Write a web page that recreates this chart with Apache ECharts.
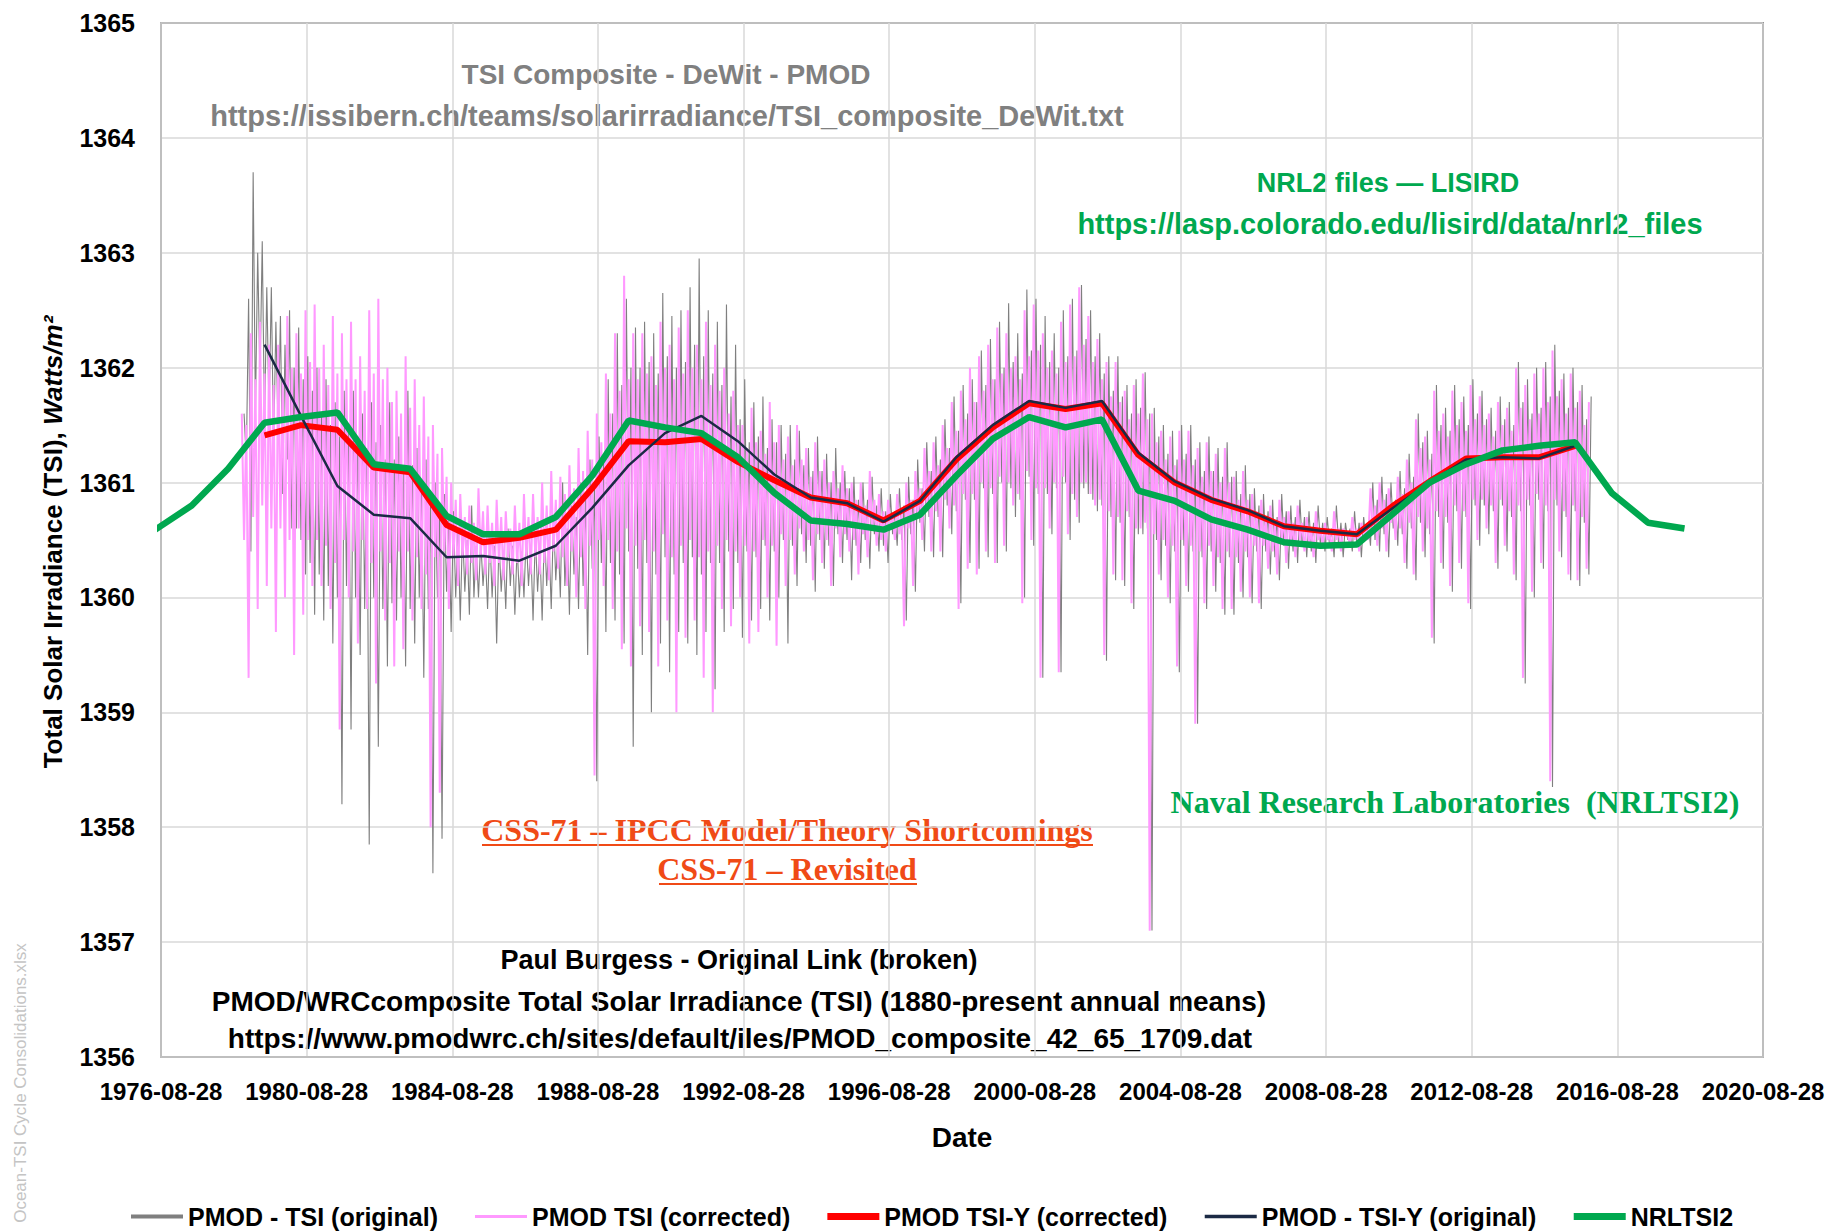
<!DOCTYPE html>
<html><head><meta charset="utf-8">
<script src="https://cdn.jsdelivr.net/npm/echarts/dist/echarts.min.js"></script>
<style>html,body{margin:0;padding:0;background:#fff}#c{width:1831px;height:1232px}</style>
</head><body><div id="c"></div>
<script>
// ---------------- DATA ----------------
const axisStartDate = '1976-08-28';
const axisEndDate = '2020-08-28';
const yTickMin = 1356, yTickMax = 1365, yTickStep = 1;

// Daily composites, summarised per quarter-year: extreme high, core band (low/high), extreme low (W/m2)
const pinkStartYear = 1978.875;   // PMOD TSI (corrected)
const greyStartYear = 1978.9375;  // PMOD - TSI (original)
const sampleStepYears = 0.25;

const pinkHigh = [1361.6,1362.3,1362.4,1362.2, 1362.2,1362.45,1362.3,1362.5, 1362.55,1362.2,1362.45,1362.3,
1362.4,1362.1,1362.5,1362.6, 1362.0,1361.8,1362.1,1361.9, 1361.75,1361.5,1361.3,1361.0,
1360.9,1360.8,1360.95,1360.8, 1360.85,1360.75,1360.8,1360.9, 1360.9,1361.0,1361.1,1361.05,
1361.15,1361.3,1361.45,1361.6, 1361.95,1362.3,1362.8,1362.3, 1362.3,1362.1,1362.4,1362.2,
1362.35,1362.5,1362.2,1362.4, 1362.2,1362.0,1361.8,1361.5, 1361.65,1361.45,1361.7,1361.5,
1361.4,1361.5,1361.3,1361.35, 1361.2,1361.1,1361.15,1361.0, 1361.0,1361.1,1360.9,1360.85,
1360.9,1361.0,1361.1,1361.3, 1361.35,1361.5,1361.7,1361.8, 1362.0,1362.1,1362.2,1362.35,
1362.3,1362.1,1362.5,1362.55, 1362.3,1362.15,1362.4,1362.55, 1362.7,1362.45,1362.25,1362.05,
1362.05,1361.8,1361.85,1361.95, 1361.6,1361.45,1361.4,1361.45, 1361.45,1361.3,1361.35,1361.25,
1361.3,1361.05,1361.1,1360.9, 1360.85,1360.8,1360.85,1360.75, 1360.8,1360.7,1360.75,1360.65,
1360.75,1360.6,1360.7,1360.65, 1360.95,1361.0,1360.95,1361.05, 1361.2,1361.55,1361.4,1361.8,
1361.6,1361.8,1361.7,1361.85, 1361.75,1361.6,1361.7,1361.65, 1362.0,1361.85,1361.95,1362.0,
1362.15,1361.9,1361.95,1361.8, 1361.7];
const pinkCoreLo = [1360.5,1360.7,1360.8,1360.6, 1360.6,1360.5,1360.6,1360.5, 1360.5,1360.45,1360.3,1360.5,
1360.4,1360.5,1360.3,1360.4, 1360.3,1360.4,1360.4,1360.35, 1360.2,1360.35,1360.4,1360.35,
1360.35,1360.3,1360.35,1360.3, 1360.3,1360.35,1360.3,1360.35, 1360.35,1360.3,1360.4,1360.35,
1360.4,1360.35,1360.45,1360.5, 1360.5,1360.4,1360.6,1360.45, 1360.5,1360.4,1360.55,1360.35,
1360.45,1360.5,1360.35,1360.4, 1360.45,1360.5,1360.4,1360.45, 1360.4,1360.5,1360.45,1360.55,
1360.5,1360.6,1360.5,1360.55, 1360.5,1360.6,1360.55,1360.5, 1360.55,1360.6,1360.5,1360.6,
1360.55,1360.6,1360.7,1360.75, 1360.75,1360.85,1360.8,1360.9, 1360.9,1361.0,1360.95,1361.05,
1361.0,1360.9,1361.1,1360.95, 1360.95,1361.0,1361.05,1360.9, 1361.0,1360.9,1360.85,1360.75,
1360.7,1360.75,1360.6,1360.65, 1360.55,1360.5,1360.45,1360.5, 1360.45,1360.4,1360.45,1360.35,
1360.4,1360.35,1360.4,1360.45, 1360.45,1360.4,1360.5,1360.45, 1360.5,1360.45,1360.5,1360.5,
1360.5,1360.55,1360.5,1360.55, 1360.55,1360.6,1360.65,1360.6, 1360.65,1360.7,1360.6,1360.75,
1360.7,1360.8,1360.75,1360.85, 1360.85,1360.8,1360.85,1360.75, 1360.8,1360.85,1360.9,1360.8,
1360.85,1360.75,1360.8,1360.7];
const pinkCoreHi = [1361.5,1361.9,1361.95,1361.85, 1361.9,1362.0,1361.95,1362.05, 1362.0,1361.85,1361.95,1361.9,
1361.9,1361.8,1361.95,1361.9, 1361.7,1361.6,1361.65,1361.5, 1361.4,1361.25,1361.05,1360.85,
1360.7,1360.65,1360.75,1360.65, 1360.7,1360.6,1360.65,1360.7, 1360.7,1360.8,1360.85,1360.9,
1360.95,1361.1,1361.2,1361.35, 1361.6,1361.8,1361.9,1361.9, 1361.95,1361.85,1362.0,1361.9,
1361.95,1362.0,1361.9,1361.85, 1361.8,1361.6,1361.5,1361.3, 1361.35,1361.25,1361.35,1361.2,
1361.15,1361.2,1361.05,1361.1, 1361.0,1360.95,1360.95,1360.85, 1360.8,1360.85,1360.75,1360.7,
1360.75,1360.85,1360.95,1361.1, 1361.15,1361.3,1361.45,1361.55, 1361.7,1361.8,1361.9,1361.95,
1362.0,1361.9,1362.1,1362.15, 1362.0,1361.95,1362.05,1362.1, 1362.2,1362.05,1361.9,1361.75,
1361.7,1361.55,1361.6,1361.55, 1361.35,1361.2,1361.15,1361.2, 1361.15,1361.05,1361.1,1361.0,
1361.0,1360.85,1360.85,1360.75, 1360.7,1360.65,1360.7,1360.65, 1360.65,1360.6,1360.6,1360.55,
1360.6,1360.55,1360.6,1360.6, 1360.8,1360.85,1360.8,1360.9, 1361.0,1361.3,1361.2,1361.45,
1361.4,1361.5,1361.45,1361.55, 1361.5,1361.4,1361.5,1361.45, 1361.65,1361.55,1361.6,1361.7,
1361.75,1361.6,1361.65,1361.5];
const pinkLow = [1359.3,1359.9,1360.1,1359.7, 1360.0,1359.5,1359.85,1360.1, 1360.1,1359.9,1358.85,1360.0,
1359.6,1359.9,1359.25,1359.8, 1359.4,1359.55,1359.8,1359.9, 1358.0,1358.3,1359.9,1360.1,
1360.2,1360.15,1360.2,1360.1, 1360.15,1360.2,1360.1,1360.2, 1360.2,1360.15,1360.25,1360.1,
1360.0,1359.9,1358.45,1360.1, 1359.9,1359.55,1359.4,1359.75, 1359.7,1359.4,1359.8,1359.0,
1359.65,1359.8,1359.3,1359.0, 1359.9,1359.75,1360.0,1359.6, 1359.7,1360.0,1359.58,1360.1,
1360.2,1360.4,1360.15,1360.3, 1360.1,1360.35,1360.4,1360.2, 1360.35,1360.45,1360.4,1360.5,
1359.75,1360.1,1360.5,1360.4, 1360.4,1360.6,1359.9,1360.25, 1360.2,1360.4,1360.3,1360.45,
1360.8,1359.95,1360.5,1359.3, 1360.6,1359.35,1360.55,1360.7, 1361.0,1360.8,1359.5,1360.2,
1360.15,1359.95,1360.6,1357.1, 1360.2,1360.0,1359.4,1360.1, 1358.9,1359.95,1360.1,1359.9,
1359.9,1360.05,1360.0,1359.95, 1360.25,1360.2,1360.3,1360.35, 1360.4,1360.35,1360.45,1360.4,
1360.4,1360.45,1360.4,1360.5, 1360.45,1360.4,1360.5,1360.3, 1360.2,1360.4,1359.65,1360.3,
1360.1,1360.3,1359.95,1360.5, 1360.6,1360.3,1360.45,1360.2, 1359.3,1360.05,1360.3,1358.4,
1360.4,1360.2,1360.15,1360.25];

const greyHigh = [1361.6,1363.7,1363.1,1362.7, 1362.45,1362.5,1362.35,1362.1, 1362.0,1361.9,1361.7,1361.8,
1361.8,1361.6,1361.7,1361.5, 1361.7,1361.4,1361.8,1361.3, 1361.2,1361.0,1360.9,1360.75,
1360.6,1360.8,1360.5,1360.55, 1360.5,1360.6,1360.45,1360.55, 1360.55,1360.6,1360.7,1361.0,
1360.8,1361.0,1361.2,1361.4, 1361.9,1362.3,1362.6,1362.35, 1362.4,1362.3,1362.65,1362.45,
1362.5,1362.7,1362.95,1362.5, 1362.4,1362.55,1362.2,1361.9, 1361.7,1361.75,1361.55,1361.5,
1361.5,1361.45,1361.3,1361.4, 1361.25,1361.3,1361.1,1361.05, 1361.0,1361.05,1360.95,1360.9,
1360.95,1361.05,1361.2,1361.35, 1361.4,1361.55,1361.75,1361.85, 1361.9,1362.15,1362.25,1362.4,
1362.56,1362.3,1362.68,1362.6, 1362.45,1362.3,1362.5,1362.6, 1362.72,1362.5,1362.3,1362.1,
1362.1,1361.85,1361.9,1361.96, 1361.65,1361.5,1361.45,1361.5, 1361.5,1361.35,1361.4,1361.3,
1361.35,1361.1,1361.15,1360.95, 1360.9,1360.85,1360.9,1360.8, 1360.85,1360.75,1360.8,1360.7,
1360.8,1360.65,1360.75,1360.7, 1361.0,1361.05,1361.0,1361.1, 1361.25,1361.6,1361.45,1361.85,
1361.65,1361.85,1361.75,1361.9, 1361.8,1361.65,1361.75,1361.7, 1362.05,1361.9,1362.0,1362.05,
1362.2,1361.95,1362.0,1361.85, 1361.75];
const greyCoreLo = [1361.2,1361.6,1361.5,1361.3, 1360.9,1360.6,1360.5,1360.3, 1360.2,1360.1,1360.0,1360.1,
1360.0,1359.9,1360.0,1359.9, 1359.95,1360.0,1359.9,1360.0, 1359.9,1360.0,1360.05,1360.0,
1360.05,1360.0,1360.1,1360.0, 1360.05,1360.1,1360.0,1360.1, 1360.05,1360.1,1360.15,1360.1,
1360.2,1360.1,1360.25,1360.3, 1360.3,1360.2,1360.4,1360.25, 1360.3,1360.2,1360.35,1360.2,
1360.3,1360.35,1360.2,1360.3, 1360.3,1360.4,1360.3,1360.4, 1360.35,1360.45,1360.4,1360.5,
1360.45,1360.55,1360.45,1360.5, 1360.45,1360.55,1360.5,1360.45, 1360.5,1360.55,1360.45,1360.55,
1360.5,1360.55,1360.65,1360.7, 1360.7,1360.8,1360.75,1360.85, 1360.85,1360.95,1360.9,1361.0,
1360.95,1360.85,1361.05,1360.9, 1360.9,1360.95,1361.0,1360.85, 1360.95,1360.85,1360.8,1360.7,
1360.65,1360.7,1360.55,1360.6, 1360.5,1360.45,1360.4,1360.45, 1360.4,1360.35,1360.4,1360.3,
1360.35,1360.3,1360.35,1360.4, 1360.4,1360.35,1360.45,1360.4, 1360.45,1360.4,1360.45,1360.45,
1360.45,1360.5,1360.45,1360.5, 1360.5,1360.55,1360.6,1360.55, 1360.6,1360.65,1360.55,1360.7,
1360.65,1360.75,1360.7,1360.8, 1360.8,1360.75,1360.8,1360.7, 1360.75,1360.8,1360.85,1360.75,
1360.8,1360.7,1360.75,1360.65];
const greyCoreHi = [1362.6,1363.0,1362.7,1362.4, 1362.2,1362.0,1361.9,1361.8, 1361.6,1361.5,1361.4,1361.45,
1361.4,1361.3,1361.35,1361.2, 1361.2,1361.1,1361.15,1361.0, 1360.9,1360.8,1360.7,1360.6,
1360.5,1360.45,1360.4,1360.45, 1360.4,1360.45,1360.4,1360.45, 1360.45,1360.5,1360.55,1360.6,
1360.7,1360.85,1361.0,1361.2, 1361.6,1361.85,1362.0,1362.0, 1362.05,1361.95,1362.1,1362.0,
1362.05,1362.2,1362.1,1361.95, 1361.85,1361.75,1361.55,1361.35, 1361.4,1361.3,1361.35,1361.25,
1361.2,1361.15,1361.1,1361.1, 1361.0,1361.0,1360.95,1360.85, 1360.85,1360.8,1360.75,1360.75,
1360.8,1360.85,1360.95,1361.1, 1361.2,1361.3,1361.45,1361.6, 1361.7,1361.85,1361.9,1362.0,
1362.05,1361.95,1362.15,1362.2, 1362.05,1362.0,1362.1,1362.15, 1362.25,1362.1,1361.95,1361.8,
1361.75,1361.6,1361.65,1361.6, 1361.4,1361.25,1361.2,1361.25, 1361.2,1361.1,1361.1,1361.05,
1361.05,1360.9,1360.9,1360.8, 1360.75,1360.7,1360.75,1360.7, 1360.7,1360.65,1360.65,1360.6,
1360.65,1360.6,1360.65,1360.65, 1360.85,1360.9,1360.85,1360.95, 1361.05,1361.35,1361.25,1361.5,
1361.45,1361.55,1361.5,1361.6, 1361.55,1361.45,1361.55,1361.5, 1361.7,1361.6,1361.65,1361.75,
1361.8,1361.65,1361.7,1361.55];
const greyLow = [1360.4,1361.9,1361.6,1361.4, 1361.2,1360.6,1360.2,1359.85, 1359.8,1359.6,1358.2,1358.85,
1359.5,1357.85,1358.7,1359.4, 1359.8,1359.4,1359.6,1359.3, 1357.6,1357.9,1359.7,1359.8,
1359.85,1360.0,1359.9,1359.6, 1359.9,1359.85,1360.0,1359.8, 1359.8,1359.9,1360.0,1359.85,
1359.9,1359.5,1358.4,1359.7, 1359.8,1359.6,1358.7,1359.5, 1359.0,1359.6,1359.35,1359.7,
1359.6,1359.5,1359.7,1359.2, 1359.7,1359.9,1359.65,1359.8, 1359.9,1359.8,1360.0,1359.6,
1360.1,1360.3,1360.05,1360.25, 1360.1,1360.3,1360.15,1360.3, 1360.25,1360.4,1360.3,1360.45,
1359.8,1360.05,1360.4,1360.35, 1360.35,1360.55,1359.95,1360.3, 1360.25,1360.35,1360.3,1360.4,
1360.7,1360.0,1360.45,1359.3, 1360.55,1359.35,1360.5,1360.65, 1360.9,1360.75,1359.45,1360.15,
1360.1,1359.9,1360.55,1357.1, 1360.15,1359.95,1359.35,1360.05, 1358.9,1359.9,1360.05,1359.85,
1359.85,1360.0,1359.95,1359.9, 1360.2,1360.15,1360.25,1360.3, 1360.35,1360.3,1360.4,1360.35,
1360.35,1360.4,1360.35,1360.45, 1360.4,1360.35,1360.45,1360.25, 1360.15,1360.35,1359.6,1360.25,
1360.05,1360.25,1359.9,1360.45, 1360.55,1360.25,1360.4,1360.15, 1359.25,1360.0,1360.25,1358.35,
1360.35,1360.15,1360.1,1360.2];

// Annual means (plotted mid-year)
const pmodYears = [1979,1980,1981,1982,1983,1984,1985,1986,1987,1988,1989,1990,1991,1992,1993,1994,1995,1996,1997,1998,
1999,2000,2001,2002,2003,2004,2005,2006,2007,2008,2009,2010,2011,2012,2013,2014,2015];
const pmodYCorrected = [1361.41,1361.50,1361.46,1361.13,1361.09,1360.63,1360.48,1360.52,1360.59,1360.95,
1361.36,1361.35,1361.38,1361.18,1361.02,1360.87,1360.82,1360.67,1360.84,1361.20,
1361.48,1361.69,1361.64,1361.69,1361.24,1361.00,1360.85,1360.75,1360.62,1360.58,
1360.55,1360.80,1361.01,1361.21,1361.22,1361.22,1361.32];
const pmodYOriginal = [1362.20,1361.58,1360.97,1360.72,1360.69,1360.35,1360.36,1360.32,1360.45,1360.78,
1361.15,1361.43,1361.58,1361.36,1361.07,1360.87,1360.82,1360.66,1360.84,1361.22,
1361.50,1361.71,1361.65,1361.71,1361.26,1361.01,1360.86,1360.76,1360.62,1360.58,
1360.55,1360.78,1361.00,1361.20,1361.22,1361.21,1361.32];
const nrlYears = [1976,1977,1978,1979,1980,1981,1982,1983,1984,1985,1986,1987,1988,1989,1990,1991,1992,1993,1994,1995,
1996,1997,1998,1999,2000,2001,2002,2003,2004,2005,2006,2007,2008,2009,2010,2011,2012,2013,2014,2015,2016,2017,2018];
const nrlVals = [1360.59,1360.80,1361.12,1361.52,1361.57,1361.61,1361.16,1361.12,1360.71,1360.55,
1360.55,1360.70,1361.06,1361.54,1361.48,1361.43,1361.22,1360.91,1360.67,1360.64,
1360.59,1360.72,1361.06,1361.38,1361.57,1361.48,1361.55,1360.93,1360.84,1360.68,
1360.59,1360.48,1360.45,1360.46,1360.73,1361.00,1361.16,1361.28,1361.32,1361.35,
1360.91,1360.65,1360.60];

const seriesNames = ['PMOD - TSI (original)','PMOD TSI (corrected)','PMOD TSI-Y (corrected)','PMOD - TSI-Y (original)','NRLTSI2'];

// ---------------- helpers ----------------
const DAY = 86400000;
function parseDate(s){ const p=s.split('-').map(Number); return Date.UTC(p[0],p[1]-1,p[2]); }
const BASE = parseDate(axisStartDate);
const AXIS_MAX = (parseDate(axisEndDate)-BASE)/DAY;
const X_INTERVAL = (Date.UTC(1980,7,28)-BASE)/DAY; // 4-year major unit
function yearToDays(y){ const yr=Math.floor(y); const s=Date.UTC(yr,0,1), e=Date.UTC(yr+1,0,1); return (s+(y-yr)*(e-s)-BASE)/DAY; }
function fmtDate(v){ const d=new Date(BASE+Math.round(v)*DAY); const p=n=>String(n).padStart(2,'0'); return d.getUTCFullYear()+'-'+p(d.getUTCMonth()+1)+'-'+p(d.getUTCDate()); }
function excursions(start, step, highs, coreLo, coreHi, lows){
  const pts=[];
  for(let k=0;k<highs.length;k++){
    const t=start+k*step;
    pts.push([yearToDays(t), highs[k]]);
    if(k<coreLo.length) pts.push([yearToDays(t+step*0.25), coreLo[k]]);
    if(k<coreHi.length) pts.push([yearToDays(t+step*0.5), coreHi[k]]);
    if(k<lows.length) pts.push([yearToDays(t+step*0.75), lows[k]]);
  }
  return pts;
}
function annual(years, vals){ return years.map((y,i)=>[yearToDays(y+0.5), vals[i]]); }
// legend bar icon of a given thickness inside a 52x14 box
function barIcon(th){ const a=(7-th/2).toFixed(2), b=(7+th/2).toFixed(2); return 'path://M0,0L0.01,0L0,0.01ZM0,14L0.01,14L0,13.99ZM0,'+a+'H52V'+b+'H0Z'; }

const SANS = '"Liberation Sans", Arial, sans-serif';
const SERIF = '"Liberation Serif", "Times New Roman", serif';
const colors = ['#7f7f7f','#ff99ff','#ff0000','#1b2a45','#00a84f'];
const legendThick = [4,3,7,3.5,7];

const chart = echarts.init(document.getElementById('c'), null, {renderer:'svg'});
const lineBase = {type:'line', symbol:'none', showSymbol:false, silent:true, animation:false};

chart.setOption({
  animation:false,
  backgroundColor:'#fff',
  grid:{left:161, right:68, top:23, bottom:175, show:true, borderColor:'#404040', borderWidth:1.5},
  xAxis:{type:'value', min:0, max:AXIS_MAX, interval:X_INTERVAL,
    axisLine:{show:true, onZero:false, lineStyle:{color:'#bfbfbf', width:2}},
    axisTick:{show:false},
    splitLine:{show:true, lineStyle:{color:'#d9d9d9', width:1.5}},
    axisLabel:{formatter:fmtDate, margin:22, color:'#000', fontFamily:SANS, fontWeight:'bold', fontSize:24},
    name:'Date', nameLocation:'middle', nameGap:66,
    nameTextStyle:{color:'#000', fontFamily:SANS, fontWeight:'bold', fontSize:28}
  },
  yAxis:{type:'value', min:yTickMin, max:yTickMax, interval:yTickStep,
    axisLine:{show:true, lineStyle:{color:'#bfbfbf', width:2}},
    axisTick:{show:false},
    splitLine:{show:true, lineStyle:{color:'#d9d9d9', width:1.5}},
    axisLabel:{margin:26, formatter:v=>String(Math.round(v)), color:'#000', fontFamily:SANS, fontWeight:'bold', fontSize:25}
  },
  legend:{left:126, top:1199, itemWidth:52, itemHeight:14, itemGap:37,
    itemStyle:{borderWidth:0},
    textStyle:{color:'#000', fontFamily:SANS, fontWeight:'bold', fontSize:25},
    data:seriesNames.map((n,i)=>({name:n, icon:barIcon(legendThick[i]), itemStyle:{color:colors[i], borderWidth:0}}))},
  series:[
    Object.assign({}, lineBase, {name:seriesNames[0], data:excursions(greyStartYear, sampleStepYears, greyHigh, greyCoreLo, greyCoreHi, greyLow),
      lineStyle:{color:colors[0], width:1.1}, itemStyle:{color:colors[0]}, z:2}),
    Object.assign({}, lineBase, {name:seriesNames[1], data:excursions(pinkStartYear, sampleStepYears, pinkHigh, pinkCoreLo, pinkCoreHi, pinkLow),
      lineStyle:{color:colors[1], width:2}, itemStyle:{color:colors[1]}, z:3}),
    Object.assign({}, lineBase, {name:seriesNames[2], data:annual(pmodYears, pmodYCorrected),
      lineStyle:{color:colors[2], width:6}, itemStyle:{color:colors[2]}, z:4}),
    Object.assign({}, lineBase, {name:seriesNames[3], data:annual(pmodYears, pmodYOriginal),
      lineStyle:{color:colors[3], width:2.5}, itemStyle:{color:colors[3]}, z:5}),
    Object.assign({}, lineBase, {name:seriesNames[4], data:annual(nrlYears, nrlVals),
      lineStyle:{color:colors[4], width:6.5}, itemStyle:{color:colors[4]}, z:6})
  ],
  graphic:[
    {type:'text', x:666, y:74, style:{text:'TSI Composite - DeWit - PMOD', fill:'#808080', fontFamily:SANS, fontWeight:'bold', fontSize:28, align:'center', verticalAlign:'middle'}},
    {type:'text', x:667, y:116, style:{text:'https://issibern.ch/teams/solarirradiance/TSI_composite_DeWit.txt', fill:'#808080', fontFamily:SANS, fontWeight:'bold', fontSize:29, align:'center', verticalAlign:'middle'}},
    {type:'text', x:1388, y:183, style:{text:'NRL2 files \u2014 LISIRD', fill:'#00a84f', fontFamily:SANS, fontWeight:'bold', fontSize:27, align:'center', verticalAlign:'middle'}},
    {type:'text', x:1390, y:224, style:{text:'https://lasp.colorado.edu/lisird/data/nrl2_files', fill:'#00a84f', fontFamily:SANS, fontWeight:'bold', fontSize:29, align:'center', verticalAlign:'middle'}},
    {type:'text', x:1455, y:802, style:{text:'Naval Research Laboratories  (NRLTSI2)', fill:'#00a84f', fontFamily:SERIF, fontWeight:'bold', fontSize:32, align:'center', verticalAlign:'middle'}},
    {type:'text', x:787, y:830, style:{text:'CSS-71 \u2013 IPCC Model/Theory Shortcomings', fill:'#f04a16', fontFamily:SERIF, fontWeight:'bold', fontSize:32, align:'center', verticalAlign:'middle'}},
    {type:'line', shape:{x1:482, y1:845, x2:1093, y2:845}, style:{stroke:'#f04a16', lineWidth:2}},
    {type:'text', x:787, y:869, style:{text:'CSS-71 \u2013 Revisited', fill:'#f04a16', fontFamily:SERIF, fontWeight:'bold', fontSize:32, align:'center', verticalAlign:'middle'}},
    {type:'line', shape:{x1:659, y1:884, x2:917, y2:884}, style:{stroke:'#f04a16', lineWidth:2}},
    {type:'text', x:739, y:960, style:{text:'Paul Burgess - Original Link (broken)', fill:'#000', fontFamily:SANS, fontWeight:'bold', fontSize:27, align:'center', verticalAlign:'middle'}},
    {type:'text', x:739, y:1001, style:{text:'PMOD/WRCcomposite Total Solar Irradiance (TSI) (1880-present annual means)', fill:'#000', fontFamily:SANS, fontWeight:'bold', fontSize:28, align:'center', verticalAlign:'middle'}},
    {type:'text', x:740, y:1038, style:{text:'https://www.pmodwrc.ch/sites/default/iles/PMOD_composite_42_65_1709.dat', fill:'#000', fontFamily:SANS, fontWeight:'bold', fontSize:28, align:'center', verticalAlign:'middle'}},
    {type:'text', x:53, y:542, rotation:Math.PI/2, style:{text:'{a|Total Solar Irradiance (TSI), }{b|Watts/m\u00b2}', align:'center', verticalAlign:'middle',
      rich:{a:{fill:'#000', fontFamily:SANS, fontWeight:'bold', fontSize:26}, b:{fill:'#000', fontFamily:SANS, fontWeight:'bold', fontStyle:'italic', fontSize:26}}}},
    {type:'text', x:20, y:1083, rotation:Math.PI/2, style:{text:'Ocean-TSI Cycle Consolidations.xlsx', fill:'#c4c4c4', fontFamily:SANS, fontSize:17, align:'center', verticalAlign:'middle'}}
  ]
});
</script>
</body></html>
